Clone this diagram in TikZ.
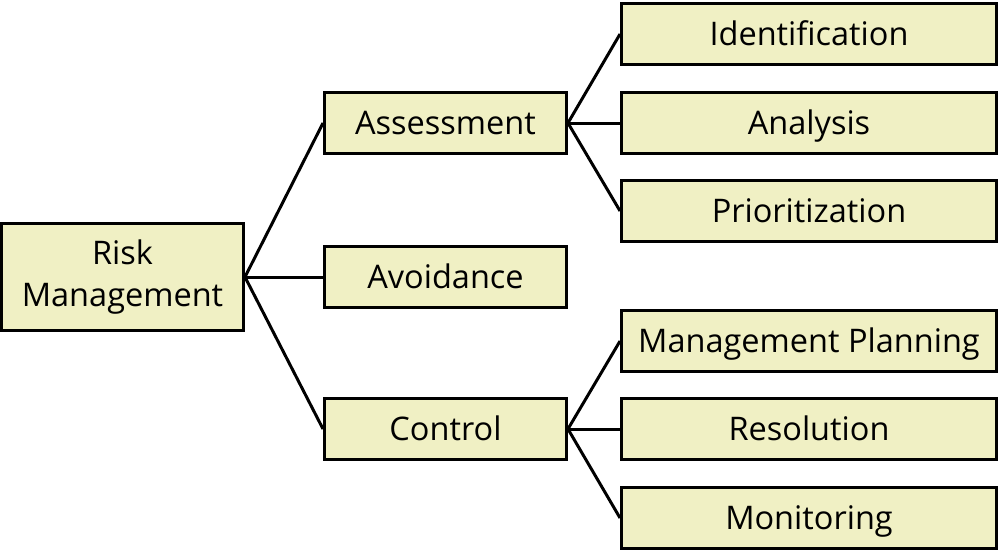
\documentclass[tikz,border=0pt]{standalone}
\usepackage{fontspec}
\setmainfont{Open Sans}
\usepackage{tikz}
\usetikzlibrary{positioning}
\definecolor{boxfill}{RGB}{240,240,196}

\begin{document}
\begin{tikzpicture}[x=0.02cm, y=-0.02cm,
    box/.style={draw=black, fill=boxfill, line width=1.7pt, inner sep=0pt,
      minimum height=1.22cm, font=\fontsize{18.5}{24}\selectfont, align=center},
    midbox/.style={box, minimum width=4.84cm, text height=13.5pt, text depth=0pt},
    leafbox/.style={box, minimum width=7.5cm, text height=13.5pt, text depth=0pt},
    link/.style={line width=1.7pt}]
  \useasboundingbox (0,0) rectangle (1000,552);
  \node[box, minimum width=4.84cm, minimum height=2.14cm] (risk) at (122.5,277) {Risk\\Management};
  \node[midbox] (assess) at (445.5,123) {Assessment};
  \node[midbox] (avoid) at (445.5,277) {Avoidance};
  \node[midbox] (control) at (445.5,429) {Control};
  \node[leafbox] (ident) at (809,34) {Identification};
  \node[leafbox] (analysis) at (809,123) {Analysis};
  \node[leafbox] (prio) at (809,211) {Prioritization};
  \node[leafbox] (plan) at (809,341) {Management Planning};
  \node[leafbox] (resol) at (809,429) {Resolution};
  \node[leafbox] (monit) at (809,518) {Monitoring};
  \foreach \n in {assess,avoid,control} { \draw[link] (risk.east) -- (\n.west); }
  \foreach \n in {ident,analysis,prio} { \draw[link] (assess.east) -- (\n.west); }
  \foreach \n in {plan,resol,monit} { \draw[link] (control.east) -- (\n.west); }
\end{tikzpicture}
\end{document}
